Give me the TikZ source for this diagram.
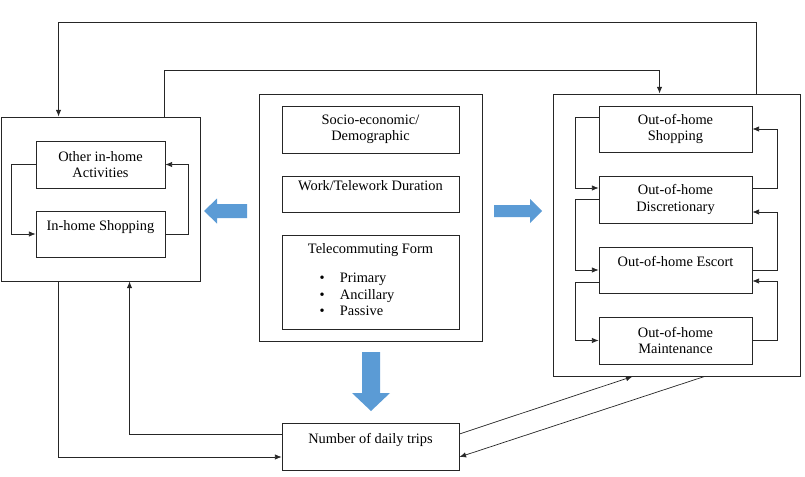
\documentclass[tikz,border=0pt]{standalone}
\usepackage{fontspec}
\setmainfont{Liberation Serif}
\definecolor{ArrowBlue}{HTML}{5B9BD5}
\definecolor{LineDark}{HTML}{262626}
\usetikzlibrary{arrows.meta,positioning,calc}
\tikzset{
  box/.style={draw=LineDark, line width=0.7pt, fill=white, align=center, inner sep=2pt, font=\fontsize{12.3}{14}\selectfont},
  outerBox/.style={draw=LineDark, line width=0.8pt, fill=white},
  arrow/.style={-{Latex[length=2mm,width=1.6mm]}, draw=LineDark, line width=0.6pt},
  blueArrow/.style={fill=ArrowBlue, draw=none}
}

\begin{document}
\begin{tikzpicture}[x=0.03cm, y=-0.03cm]
\useasboundingbox (0,0) rectangle (805,477);

% outer groups
\node[outerBox, minimum width=5.97cm, minimum height=4.92cm] (homebox) at (100.5,199) {};
\node[outerBox, minimum width=6.69cm, minimum height=7.41cm] (factors) at (370.5,217.5) {};
\node[outerBox, minimum width=7.41cm, minimum height=8.46cm] (outbox) at (676.5,235) {};

% in-home activities
\node[box, minimum width=3.87cm, minimum height=1.41cm] (otherhome) at (100.5,164.5) {Other in-home\\Activities};
\node[box, minimum width=3.87cm, minimum height=1.38cm] (inshop) at (100.5,234) {In-home Shopping\\\mbox{}};

% factors
\node[box, minimum width=5.31cm, minimum height=1.41cm] (socio) at (370.5,129.5) {Socio-economic/\\Demographic};
\node[box, minimum width=5.31cm, minimum height=1.08cm] (work) at (370.5,194) {Work/Telework Duration\\\mbox{}};
\node[box, minimum width=5.31cm, minimum height=2.82cm] (teleform) at (370.5,282) {Telecommuting Form\\[11pt]
  \begin{tabular}[t]{@{}l@{\hspace{13pt}}l@{\hspace{23pt}}}
  \textbullet & Primary\\
  \textbullet & Ancillary\\
  \textbullet & Passive
  \end{tabular}};

% out-of-home activities
\node[box, minimum width=4.59cm, minimum height=1.38cm] (outshop) at (675.5,129) {Out-of-home\\Shopping};
\node[box, minimum width=4.59cm, minimum height=1.41cm] (outdisc) at (675.5,199.5) {Out-of-home\\Discretionary};
\node[box, minimum width=4.59cm, minimum height=1.38cm] (outescort) at (675.5,270) {Out-of-home Escort\\\mbox{}};
\node[box, minimum width=4.59cm, minimum height=1.41cm] (outmaint) at (675.5,340.5) {Out-of-home\\Maintenance};

% trips
\node[box, minimum width=5.31cm, minimum height=1.41cm] (trips) at (370.5,446.5) {Number of daily trips\\\mbox{}};

% block arrows
\fill[blueArrow] (204,211) -- (217,198.5) -- (217,204) -- (247,204) -- (247,218) -- (217,218) -- (217,223.5) -- cycle;
\fill[blueArrow] (542,211) -- (530,199) -- (530,205) -- (494,205) -- (494,217) -- (530,217) -- (530,223) -- cycle;
\fill[blueArrow] (371,411) -- (352,393) -- (362,393) -- (362,352) -- (380,352) -- (380,393) -- (390,393) -- cycle;

% loops inside home box
\draw[arrow] (otherhome.west) -- ++(-24,0) |- (inshop.west);
\draw[arrow] (inshop.east) -- ++(23,0) |- (otherhome.east);

% loops inside out-of-home box
\draw[arrow] ($(outshop.west)+(0,-12)$) -- ++(-23,0) |- ($(outdisc.west)+(0,-11.5)$);
\draw[arrow] (outdisc.west) -- ++(-23,0) |- (outescort.west);
\draw[arrow] ($(outescort.west)+(0,12)$) -- ++(-23,0) |- (outmaint.west);
\draw[arrow] ($(outdisc.east)+(0,-11.5)$) -- ++(25,0) |- (outshop.east);
\draw[arrow] (outescort.east) -- ++(25,0) |- ($(outdisc.east)+(0,12.5)$);
\draw[arrow] (outmaint.east) -- ++(25,0) |- ($(outescort.east)+(0,11)$);

% feedback over the top
\draw[arrow] ($(outbox.north east)+(-44,0)$) -- ++(0,-71) -| ($(homebox.north west)+(58,0)$);
\draw[arrow] ($(homebox.north west)+(164,0)$) -- ++(0,-46) -| ($(outbox.north west)+(107,0)$);

% trips links
\draw[arrow] ($(homebox.south west)+(58,0)$) |- ($(trips.west)+(0,10.5)$);
\draw[arrow] ($(trips.west)+(0,-12.5)$) -| ($(homebox.south west)+(129,0)$);
\draw[arrow] ($(trips.east)+(0,-12.5)$) -- ($(outbox.south west)+(80,0)$);
\draw[arrow] ($(outbox.south west)+(152,0)$) -- ($(trips.east)+(0,10.5)$);
\end{tikzpicture}
\end{document}
